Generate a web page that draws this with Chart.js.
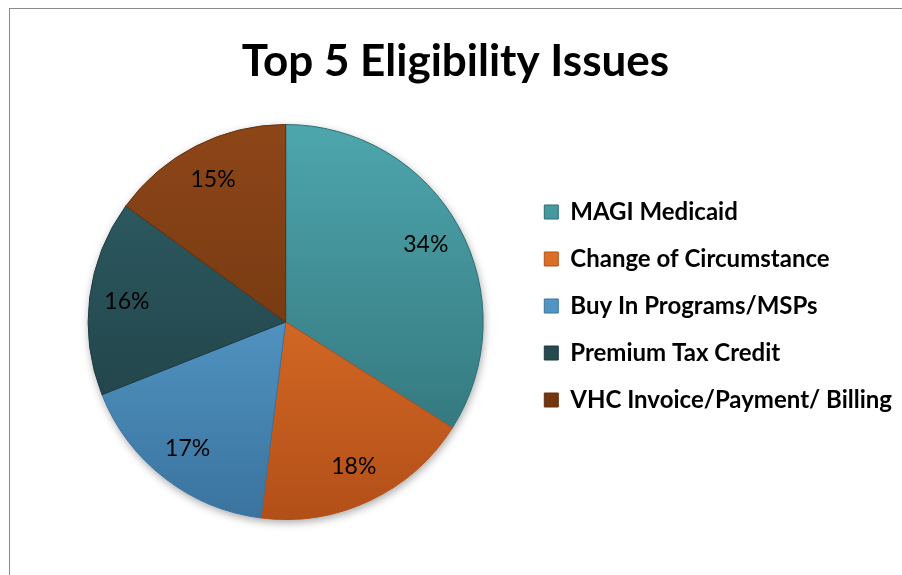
<!DOCTYPE html>
<html>
<head>
<meta charset="utf-8">
<script src="https://cdn.jsdelivr.net/npm/chart.js@4"></script>
<style>
  html, body { margin: 0; padding: 0; background: #fff; }
  body { width: 902px; height: 575px; position: relative; overflow: hidden; }
  .frame {
    position: absolute; left: 9px; top: 8px; width: 1000px; height: 1000px;
    border-left: 1px solid #8a8a8a; border-top: 1px solid #8a8a8a;
  }
  #chart { position: absolute; left: 0; top: 0; }
</style>
</head>
<body>
<div class="frame"></div>
<canvas id="chart" width="902" height="575"></canvas>
<script>
var categories = ['MAGI Medicaid', 'Change of Circumstance', 'Buy In Programs/MSPs', 'Premium Tax Credit', 'VHC Invoice/Payment/ Billing'];
var values = [34, 18, 17, 16, 15];
var chartTitle = 'Top 5 Eligibility Issues';

// light -> dark shade for each slice
var lightColors = ['#4ea6ad', '#f27f30', '#66b1e2', '#2f5f66', '#8d4618'];
var darkColors = ['#2d6c72', '#b24f18', '#3a739e', '#1d3b40', '#66300d'];
var midColors = ['#3a878d', '#d9631c', '#4a8fc1', '#24494f', '#7b3a12'];

var frameLeft = 9;

// title centred over the framed area (the frame starts at x=9), not over the layout box
var frameTitle = {
    id: 'frameTitle',
    afterDraw: function (chart) {
        var ctx = chart.ctx;
        ctx.save();
        ctx.font = 'bold 44px Lato';
        ctx.fillStyle = '#000';
        ctx.textAlign = 'center';
        ctx.textBaseline = 'middle';
        ctx.fillText(chartTitle, (frameLeft + chart.width) / 2, 62);
        ctx.restore();
    }
};

// soft shadow under the whole pie
var pieShadow = {
    id: 'pieShadow',
    beforeDatasetsDraw: function (chart) {
        var arc = chart.getDatasetMeta(0).data[0];
        if (!arc) return;
        var ctx = chart.ctx;
        ctx.save();
        ctx.shadowColor = 'rgba(0,0,0,0.35)';
        ctx.shadowBlur = 8;
        ctx.shadowOffsetX = 1;
        ctx.shadowOffsetY = 3;
        ctx.beginPath();
        ctx.arc(arc.x, arc.y, arc.outerRadius, 0, Math.PI * 2);
        ctx.fillStyle = '#fff';
        ctx.fill();
        ctx.restore();
    }
};

// percentage labels inside the slices
var pctLabels = {
    id: 'pctLabels',
    afterDatasetsDraw: function (chart) {
        var ctx = chart.ctx;
        var meta = chart.getDatasetMeta(0);
        ctx.save();
        ctx.font = '23px Lato';
        ctx.fillStyle = '#000';
        ctx.textAlign = 'center';
        ctx.textBaseline = 'middle';
        meta.data.forEach(function (arc, i) {
            var p = arc.getProps(['x', 'y', 'startAngle', 'endAngle', 'outerRadius'], true);
            var mid = (p.startAngle + p.endAngle) / 2;
            var r = p.outerRadius * 0.81;
            ctx.fillText(values[i] + '%', p.x + Math.cos(mid) * r, p.y + Math.sin(mid) * r);
        });
        ctx.restore();
    }
};

function sliceFill(c) {
    var area = c.chart.chartArea;
    var i = c.dataIndex;
    if (!area) return midColors[i];
    var g = c.chart.ctx.createLinearGradient(0, area.top, 0, area.bottom);
    g.addColorStop(0, lightColors[i]);
    g.addColorStop(1, darkColors[i]);
    return g;
}

new Chart(document.getElementById('chart'), {
    type: 'pie',
    data: {
        labels: categories,
        datasets: [{
            data: values,
            backgroundColor: sliceFill,
            borderColor: darkColors,
            borderWidth: 1,
            hoverOffset: 0
        }]
    },
    options: {
        responsive: false,
        animation: false,
        layout: { padding: { top: 124, bottom: 55, left: 50, right: 0 } },
        plugins: {
            tooltip: { enabled: false },
            title: { display: false },
            legend: {
                position: 'right',
                align: 'start',
                // empty title only pushes the items down
                title: {
                    display: true,
                    text: ' ',
                    font: { size: 10, lineHeight: 1 },
                    padding: { top: 43, bottom: 0 }
                },
                labels: {
                    color: '#000',
                    font: { family: 'Lato', size: 24, weight: 'bold' },
                    boxWidth: 14,
                    boxHeight: 14,
                    padding: 23
                }
            }
        }
    },
    plugins: [pieShadow, pctLabels, frameTitle]
});
</script>
</body>
</html>
